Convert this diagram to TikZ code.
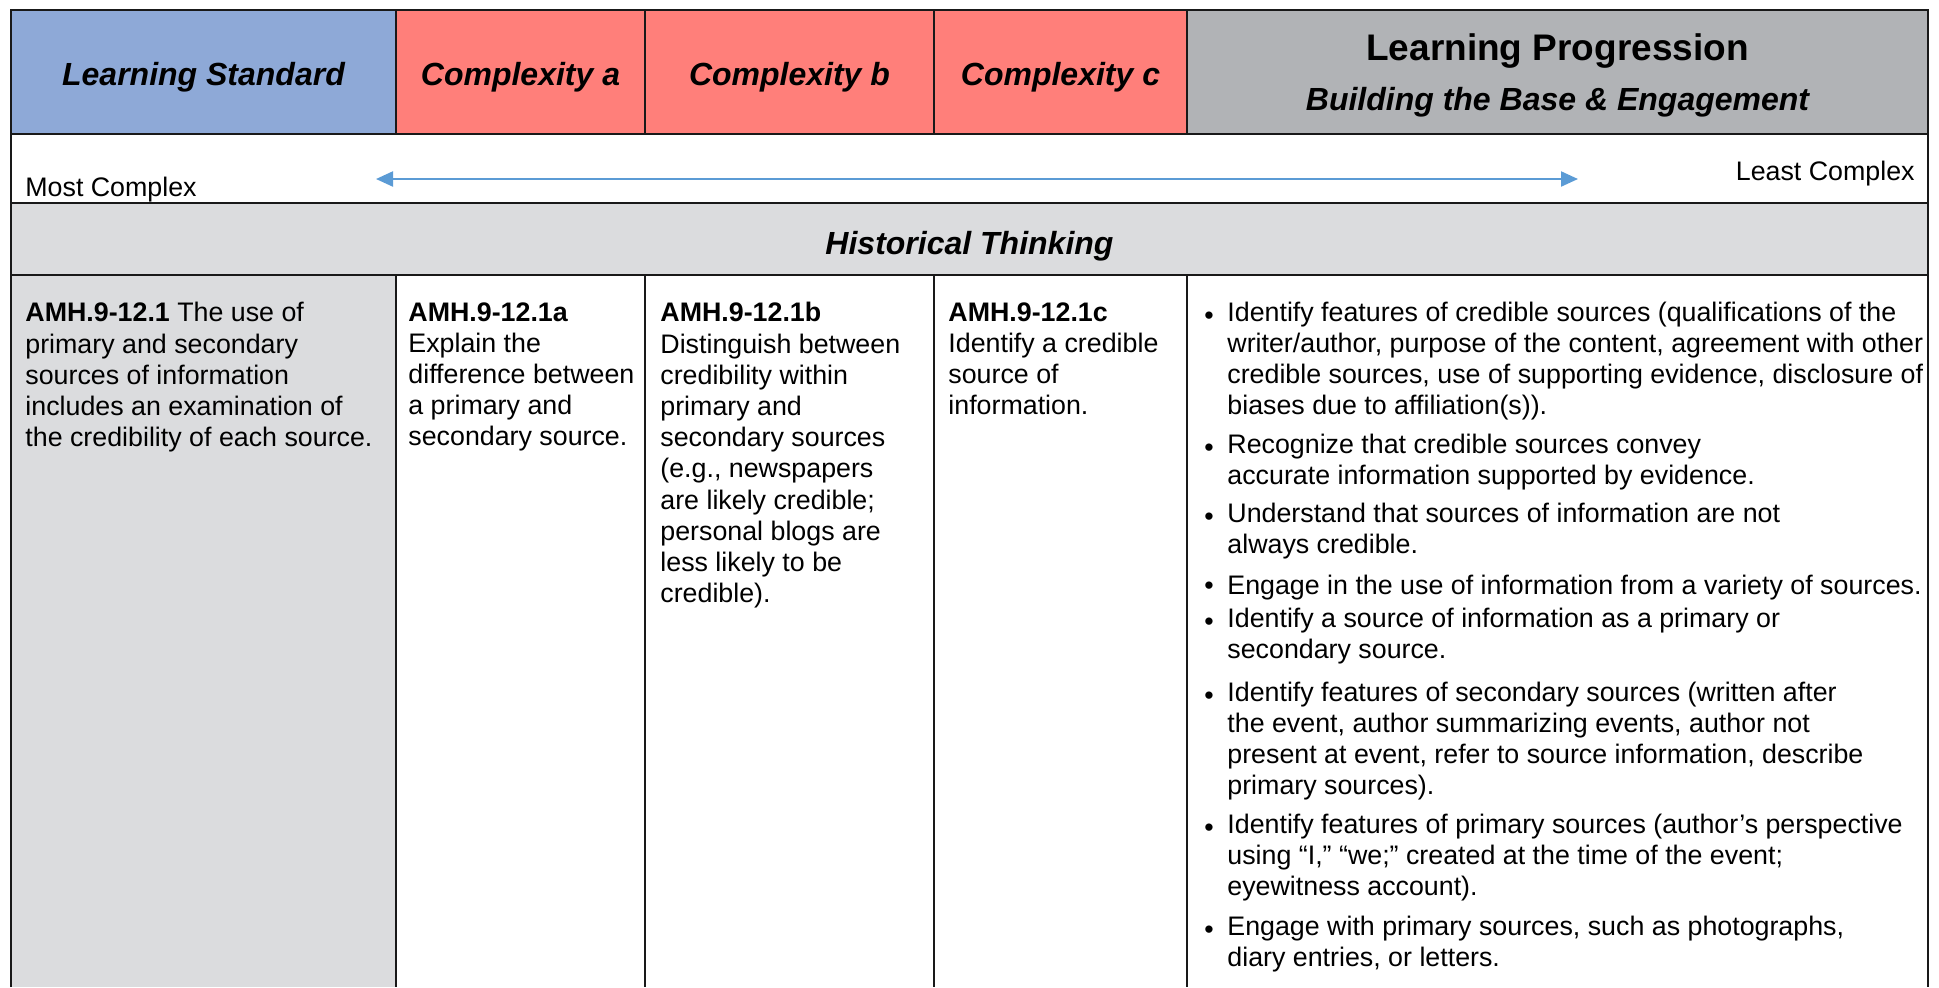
\documentclass[tikz,border=0pt]{standalone}
\usepackage{fontspec}
\setmainfont{Liberation Sans}
\usepackage{xcolor}
\usetikzlibrary{arrows.meta, positioning}
\definecolor{stdblue}{RGB}{142,169,215}
\definecolor{cpxred}{RGB}{255,127,122}
\definecolor{lpgray}{RGB}{177,179,182}
\definecolor{ltgray}{RGB}{219,220,222}
\definecolor{arrblue}{RGB}{91,155,213}

\begin{document}
\begin{tikzpicture}[x=0.5pt, y=-0.5pt,
    grid/.style={line width=1.2pt, black!90},
    head/.style={anchor=base, inner sep=0pt, font=\fontsize{16}{19}\selectfont\bfseries\itshape},
    note/.style={anchor=base west, inner sep=0pt, font=\fontsize{13.4}{15.5}\selectfont},
    body/.style={anchor=north west, inner sep=0pt, align=left, execute at begin node=\strut, font=\fontsize{13.4}{15.6}\selectfont}]
    \useasboundingbox (0,0) rectangle (1939,987);
    \fill[stdblue] (11,10) rectangle (396,134);
    \fill[cpxred] (396,10) rectangle (1187,134);
    \fill[lpgray] (1187,10) rectangle (1928,134);
    \fill[ltgray] (11,203) rectangle (1928,275);
    \fill[ltgray] (11,275) rectangle (396,987);
    \draw[grid] (11,987) -- (11,10) -- (1928,10) -- (1928,987);
    \draw[grid] (11,134) -- (1928,134);
    \draw[grid] (11,203) -- (1928,203);
    \draw[grid] (11,275) -- (1928,275);
    \foreach \x in {396,645,934,1187} {
        \draw[grid] (\x,10) -- (\x,134);
        \draw[grid] (\x,275) -- (\x,987);
    }
    % header row
    \node[head] (std) at (203.5,85) {Learning Standard};
    \node[head] (cpxa) at (520.5,85) {Complexity a};
    \node[head] (cpxb) at (789.5,85) {Complexity b};
    \node[head] (cpxc) at (1060.5,85) {Complexity c};
    \node[head, font=\fontsize{18.5}{22}\selectfont\bfseries] (prog) at (1557.5,60) {Learning Progression};
    \node[head] (base) at (1557.5,110) {Building the Base \& Engagement};
    % complexity scale
    \node[note] (most) at (25,196) {Most Complex};
    \node[note, anchor=base east] (least) at (1915,180) {Least Complex};
    \coordinate (arrL) at (376,179);
    \coordinate (arrR) at (1578,179);
    \draw[arrblue, line width=1.1pt, {Triangle[length=8.5pt,width=7.5pt]}-{Triangle[length=8.5pt,width=7.5pt]}] (arrL) -- (arrR);
    \node[head] (hist) at (969.5,254) {Historical Thinking};
    % standard and complexities
    \node[body] (stdtxt) at (25,302) {\textbf{AMH.9-12.1} The use of\\primary and secondary\\sources of information\\includes an examination of\\the credibility of each source.};
    \node[body] (atxt) at (408,302) {\textbf{AMH.9-12.1a}\\Explain the\\difference between\\a primary and\\secondary source.};
    \node[body] (btxt) at (660,302) {\textbf{AMH.9-12.1b}\\Distinguish between\\credibility within\\primary and\\secondary sources\\(e.g., newspapers\\are likely credible;\\personal blogs are\\less likely to be\\credible).};
    \node[body] (ctxt) at (948,302) {\textbf{AMH.9-12.1c}\\Identify a credible\\source of\\information.};
    % progression bullets
    \foreach \y/\n in {324/1,456/2,525/3,594/4,630/5,704/6,836/7,938/8}
        \node[note] (dot\n) at (1204,\y) {\textbullet};
    \node[body, font=\fontsize{13.4}{15.5}\selectfont] (lp1) at (1227,302) {Identify features of credible sources (qualifications of the\\writer/author, purpose of the content, agreement with other\\credible sources, use of supporting evidence, disclosure of\\biases due to affiliation(s)).};
    \node[body, font=\fontsize{13.4}{15.5}\selectfont] (lp2) at (1227,434) {Recognize that credible sources convey\\accurate information supported by evidence.};
    \node[body, font=\fontsize{13.4}{15.5}\selectfont] (lp3) at (1227,503) {Understand that sources of information are not\\always credible.};
    \node[body, font=\fontsize{13.4}{15.5}\selectfont] (lp4) at (1227,572) {Engage in the use of information from a variety of sources.};
    \node[body, font=\fontsize{13.4}{15.5}\selectfont] (lp5) at (1227,608) {Identify a source of information as a primary or\\secondary source.};
    \node[body, font=\fontsize{13.4}{15.5}\selectfont] (lp6) at (1227,682) {Identify features of secondary sources (written after\\the event, author summarizing events, author not\\present at event, refer to source information, describe\\primary sources).};
    \node[body, font=\fontsize{13.4}{15.5}\selectfont] (lp7) at (1227,814) {Identify features of primary sources (author’s perspective\\using “I,” “we;” created at the time of the event;\\eyewitness account).};
    \node[body, font=\fontsize{13.4}{15.5}\selectfont] (lp8) at (1227,916) {Engage with primary sources, such as photographs,\\diary entries, or letters.};
\end{tikzpicture}
\end{document}
